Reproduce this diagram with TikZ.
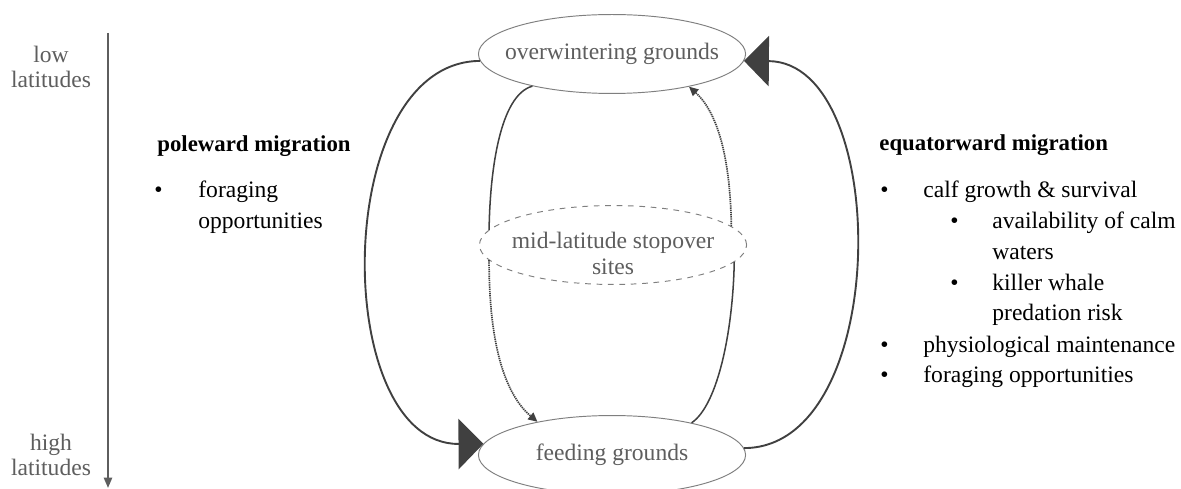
\documentclass[tikz,border=0pt]{standalone}
\usepackage{fontspec}
\setmainfont{Liberation Serif}
\usepackage{tikz}
\usetikzlibrary{arrows.meta,shapes.geometric}
\definecolor{labelgrey}{HTML}{5E5E5E}
\definecolor{rimgrey}{HTML}{7F7F7F}
\definecolor{routedark}{HTML}{404040}

\begin{document}
\begin{tikzpicture}[x=0.0185cm,y=-0.0185cm,
 stage/.style={ellipse,draw=rimgrey,line width=0.5pt,fill=white,minimum width=4.94cm,minimum height=1.46cm,inner sep=0pt},
 stopover/.style={stage,dashed},
 stagetext/.style={text=labelgrey,font=\fontsize{12.4}{13.6}\selectfont,align=center},
 route/.style={draw=routedark,line width=1pt,-{Triangle[length=0.46cm,width=0.93cm]}},
 leg/.style={draw=routedark,line width=0.8pt},
 legtip/.style={draw=routedark,line width=0.9pt,dash pattern=on 0.7pt off 0.45pt,-{Triangle[length=0.17cm,width=0.16cm]}},
 axis/.style={draw=labelgrey,line width=1pt,-{Triangle[length=0.19cm,width=0.15cm]}},
 head/.style={font=\fontsize{12}{13.6}\selectfont\bfseries,anchor=base west,inner sep=0pt},
 item/.style={font=\fontsize{12.4}{13.6}\selectfont,anchor=base west,inner sep=0pt}]

\useasboundingbox (0,0) rectangle (1181,489);

% Latitude axis
\coordinate (axtop) at (108,33);
\coordinate (axbot) at (108,488);
\draw[axis] (axtop) -- (axbot);
\node[stagetext] (low) at (51,67) {low\\latitudes};
\node[stagetext] (high) at (51,455) {high\\latitudes};

% Sites
\node[stage,label={[stagetext]center:overwintering grounds}] (over) at (612,54) {};
\node[stopover,label={[stagetext,yshift=-0.15cm]center:mid-latitude stopover\\sites}] (stop) at (613,245) {};
\node[stage,label={[stagetext]center:feeding grounds}] (feed) at (612,455) {};

% Direct migrations
\draw[route] (over.183) .. controls (330,62) and (330,445) .. (feed.175);
\draw[route] (feed.3) .. controls (892,448) and (892,62) .. (over.-3);

% Migrations through the stopover sites
\draw[leg] (over.202) .. controls (500,95) and (490,170) .. (stop.173);
\draw[legtip] (stop.187) .. controls (489,330) and (500,390) .. (feed.156);
\draw[leg] (feed.22) .. controls (718,405) and (733,330) .. (stop.-8);
\draw[legtip] (stop.9.5) .. controls (730,150) and (715,110) .. (over.337.6);

% Poleward drivers
\node[head] (pw) at (157,152) {poleward migration};
\node[item] (pwB) at (154,198) {\textbullet}; \node[item] (pwA) at (198,198) {foraging};
\node[item] (pwA2) at (198,229) {opportunities};

% Equatorward drivers
\node[head] (eq) at (879,151) {equatorward migration};
\node[item] (eqB1) at (880,198) {\textbullet}; \node[item] (eqA) at (923,198) {calf growth \& survival};
\node[item] (eqB2) at (950,229) {\textbullet}; \node[item] (eqA1) at (992,229) {availability of calm};
\node[item] (eqA1b) at (992,260) {waters};
\node[item] (eqB3) at (950,291) {\textbullet}; \node[item] (eqA2) at (992,291) {killer whale};
\node[item] (eqA2b) at (992,321) {predation risk};
\node[item] (eqB4) at (880,353) {\textbullet}; \node[item] (eqC) at (923,353) {physiological maintenance};
\node[item] (eqB5) at (880,383) {\textbullet}; \node[item] (eqD) at (923,383) {foraging opportunities};
\end{tikzpicture}
\end{document}
